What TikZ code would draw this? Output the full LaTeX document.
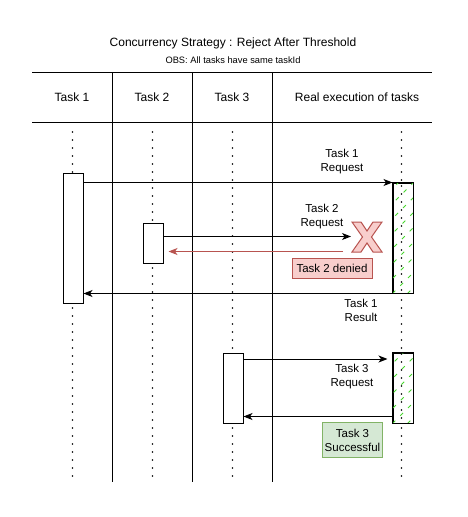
\documentclass[tikz,border=0pt]{standalone}
\usepackage{fontspec}
\setmainfont{Liberation Sans}
\usetikzlibrary{calc,arrows.meta}
\definecolor{redfill}{HTML}{F8CECC}
\definecolor{reddraw}{HTML}{B85450}
\definecolor{greenfill}{HTML}{D5E8D4}
\definecolor{greendraw}{HTML}{82B366}
\definecolor{hatchgreen}{RGB}{70,215,45}
\tikzset{
  tabline/.style={line width=1pt,black},
  lifeline/.style={line width=1.8pt,line cap=round,dash pattern=on 0pt off 8pt},
  actbox/.style={draw,line width=1pt,fill=white,minimum width=20pt,inner sep=0pt,anchor=north west},
  execbox/.style={draw,line width=1pt,fill=white,minimum width=20pt,inner sep=0pt,anchor=north west},
  msg/.style={line width=1pt,-{Stealth[length=9pt,width=7pt,inset=2.5pt]}},
  denymsg/.style={msg,draw=reddraw},
  lbl/.style={font=\fontsize{11.5}{14}\selectfont,align=center,inner sep=0pt},
  hdr/.style={font=\fontsize{12}{14}\selectfont,inner sep=0pt},
  hatch/.style={draw=hatchgreen,line width=1pt,dash pattern=on 4pt off 7pt},
}
\begin{document}
\begin{tikzpicture}[x=1pt,y=-1pt]
\useasboundingbox[fill=white] (0,0) rectangle (467,517);
% titles
\node[hdr] (title) at (233,43) {Concurrency Strategy : Reject After Threshold};
\node[hdr,font=\fontsize{9.3}{11}\selectfont] (sub) at (233,60) {OBS: All tasks have same taskId};
% table
\draw[tabline] (32,72) -- (432,72);
\draw[tabline] (32,122) -- (432,122);
\draw[tabline] (112.5,72) -- (112.5,482);
\draw[tabline] (192.5,72) -- (192.5,482);
\draw[tabline] (272.5,72) -- (272.5,482);
\node[hdr] (h1) at (72,97) {Task 1};
\node[hdr] (h2) at (152,97) {Task 2};
\node[hdr] (h3) at (232,97) {Task 3};
\node[hdr] (h4) at (357,97) {Real execution of tasks};
% lifelines
\draw[lifeline] (72.5,132) -- (72.5,481);
\draw[lifeline] (152.5,132) -- (152.5,481);
\draw[lifeline] (232.5,132) -- (232.5,478);
\draw[lifeline] (401.5,132) -- (401.5,481);
% activation boxes
\node[actbox,minimum height=130pt] (t1box) at (62.5,172.5) {};
\node[actbox,minimum height=40pt] (t2box) at (142.5,222.5) {};
\node[actbox,minimum height=70pt] (t3box) at (222.5,352.5) {};
\node[execbox,minimum height=110pt] (r1box) at (392.5,182.5) {};
\node[execbox,minimum height=70pt] (r2box) at (392.5,352.5) {};
% hatching
\begin{scope}
\clip (r1box.north west) rectangle (r1box.south east);
\foreach \i in {-120,-105,...,24} {
  \draw[hatch] ($(r1box.south west)+(\i,0)$) -- ++(130,-130);
}
\end{scope}
\begin{scope}
\clip (r2box.north west) rectangle (r2box.south east);
\foreach \i in {-75,-60,...,24} {
  \draw[hatch] ($(r2box.south west)+(\i,0)$) -- ++(100,-100);
}
\end{scope}
\draw[line width=1pt] (r1box.north west) rectangle (r1box.south east);
\draw[line width=1pt] (r2box.north west) rectangle (r2box.south east);
% lifeline dots over exec boxes
\draw[lifeline] (401.5,186) -- (401.5,290);
\draw[lifeline] (401.5,354) -- (401.5,420);
% red X
\draw[fill=redfill,draw=reddraw,line width=1pt,line join=miter]
  (352,222) -- (361,222) -- (367,231) -- (373,222) -- (382,222) -- (371.5,237)
  -- (382,252) -- (373,252) -- (367,243) -- (361,252) -- (352,252) -- (362.5,237) -- cycle;
\coordinate (xw) at (351,236.5);
\coordinate (redstart) at (343,251.5);
% messages
\draw[msg] (r1box.north west -| t1box.east) -- (r1box.north west);
\node[lbl] (l1) at (342,162) {Task 1\\Request};
\draw[msg] (xw -| t2box.east) -- (xw);
\node[lbl] (l2) at (322,217) {Task 2\\Request};
\draw[denymsg] (redstart) -- ([xshift=5pt]redstart -| t2box.east);
\node[draw=reddraw,fill=redfill,line width=1pt,font=\fontsize{11.5}{14}\selectfont,minimum width=80pt,minimum height=20.5pt,inner sep=0pt] (deny) at (332,268.5) {Task 2 denied};
\draw[msg] (r1box.south west) -- (r1box.south west -| t1box.east);
\node[lbl] (l3) at (361,310) {Task 1\\Result};
\draw[msg] ($(t3box.north east)+(0,6.5)$) -- ($(r2box.north west)+(-5,6.5)$);
\node[lbl] (l4) at (352,377) {Task 3\\Request};
\draw[msg] ($(r2box.south west)+(0,-7)$) -- ($(t3box.south east)+(0,-7)$);
\node[draw=greendraw,fill=greenfill,line width=1pt,font=\fontsize{11.5}{14}\selectfont,align=center,minimum width=60pt,minimum height=35pt,inner sep=0pt] (succ) at (352.5,440) {Task 3\\Successful};
\end{tikzpicture}
\end{document}
